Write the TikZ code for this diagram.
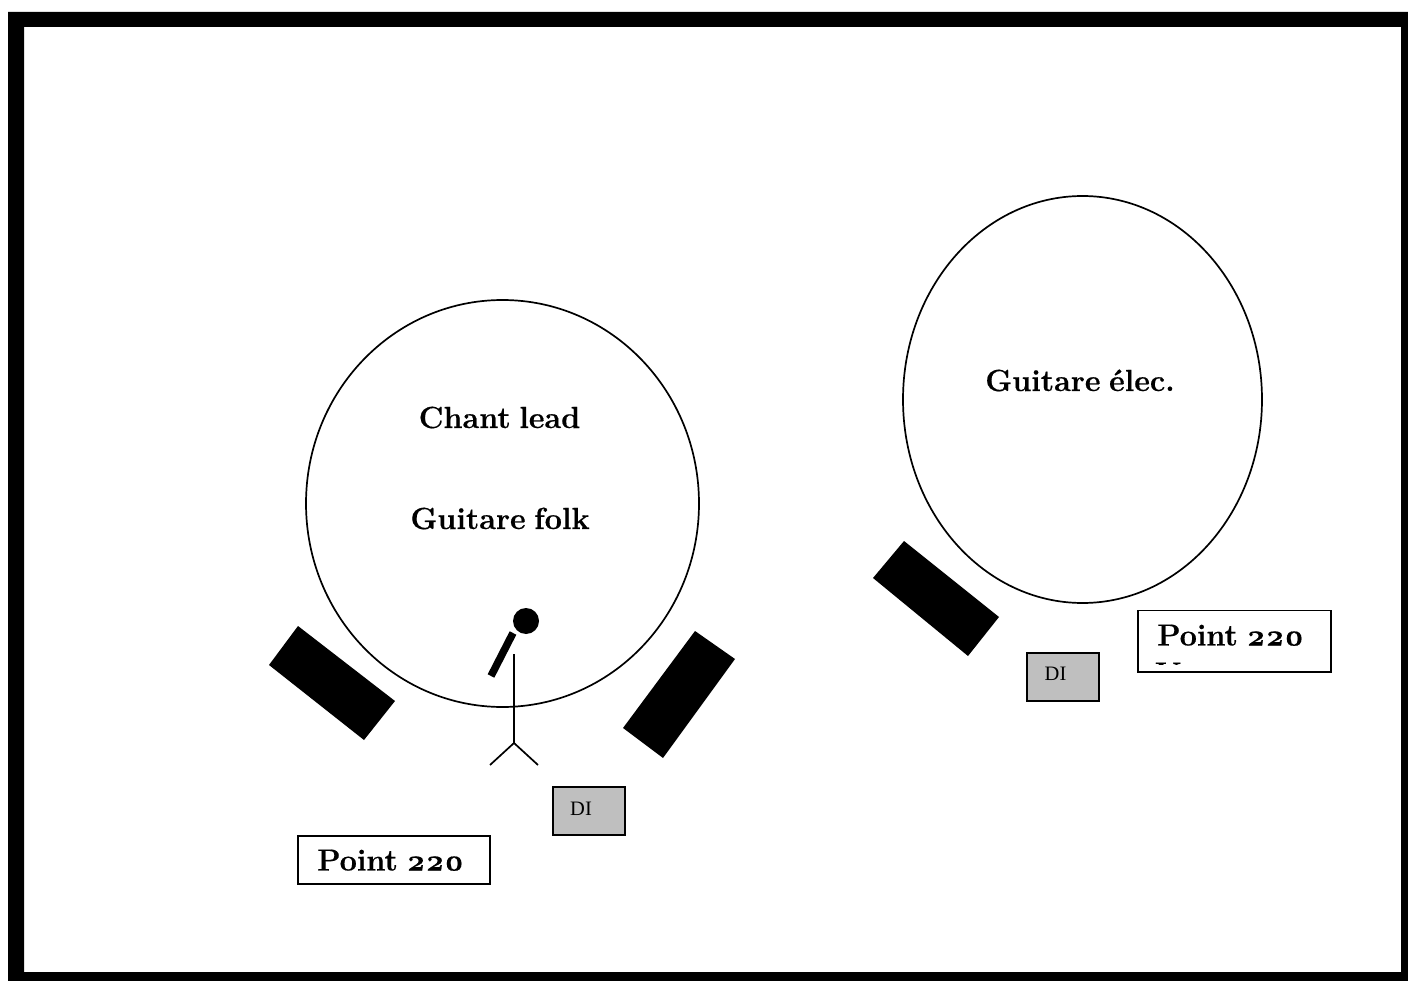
\documentclass[tikz,border=0pt]{standalone}
\usepackage{fontspec}
\usetikzlibrary{shapes.geometric}
\newfontfamily\labelfont[Numbers=OldStyle,WordSpace=0.75,BoldFeatures={FakeBold=0.5}]{Latin Modern Roman}
\newfontfamily\difont{Liberation Serif}
\begin{document}
\begin{tikzpicture}[x=1pt,y=-1pt,
  outline/.style={draw=black,line width=1.7pt,fill=white},
  solidbar/.style={fill=black,draw=none},
  limb/.style={draw=black,line width=1.7pt},
  boxrect/.style={draw=black,line width=1.8pt,fill=white},
  dibox/.style={draw=black,line width=2pt,fill=black!25},
  biglabel/.style={font=\labelfont\bfseries\fontsize{30.5}{34}\selectfont,text=black,inner sep=0pt},
  dilabel/.style={font=\difont\fontsize{20.5}{24}\selectfont,text=black,inner sep=0pt}]
\useasboundingbox (0,0) rectangle (1408,981);
\fill[white] (0,0) rectangle (1408,981);
\fill[black,even odd rule] (8,12) rectangle (1408,981) (24,27) rectangle (1401,972);
% stage circles
\node[outline,ellipse,minimum width=393pt,minimum height=407pt,inner sep=0pt] (leftcircle) at (502.5,503.5) {};
\node[outline,ellipse,minimum width=359pt,minimum height=407pt,inner sep=0pt] (rightcircle) at (1082.5,399.5) {};
% monitors
\fill[solidbar] (298,626) -- (395,701) -- (364,740) -- (269,665) -- cycle;
\fill[solidbar] (695,631) -- (735,659) -- (663,758) -- (623,728) -- cycle;
\fill[solidbar] (904,541) -- (999,617) -- (968,656) -- (873,578) -- cycle;
% singer and microphone
\fill[black] (526,621) circle[radius=13];
\draw[black,line width=7.5pt] (513,633) -- (491,676);
\coordinate (head) at (514,654);
\coordinate (hip) at (514,743);
\coordinate (footl) at (490,765);
\coordinate (footr) at (538,765);
\draw[limb] (head) -- (hip);
\draw[limb] (footl) -- (hip) -- (footr);
% DI boxes
\draw[dibox] (552.5,787) rectangle (625,835);
\node[dilabel,anchor=base west] (dione) at (570,815) {DI};
\draw[dibox] (1027,652.5) rectangle (1099,701);
\node[dilabel,anchor=base west] (ditwo) at (1044.5,680) {DI};
% power boxes
\draw[boxrect] (298,836) rectangle (490,884);
\node[biglabel,anchor=base west] (powerone) at (317,870.5) {Point 220};
\draw[boxrect] (1138,610.5) rectangle (1331,672);
\node[biglabel,anchor=base west] (powertwo) at (1157,645.5) {Point 220};
\begin{scope}
\clip (1140,659) rectangle (1329,664);
\node[biglabel,anchor=base west] (clipped) at (1155,683.5) {V};
\end{scope}
% labels
\node[biglabel,anchor=base] (chant) at (499.5,428) {Chant lead};
\node[biglabel,anchor=base] (folk) at (500,529) {Guitare folk};
\node[biglabel,anchor=base] (elec) at (1080,391) {Guitare élec.};
\end{tikzpicture}
\end{document}
